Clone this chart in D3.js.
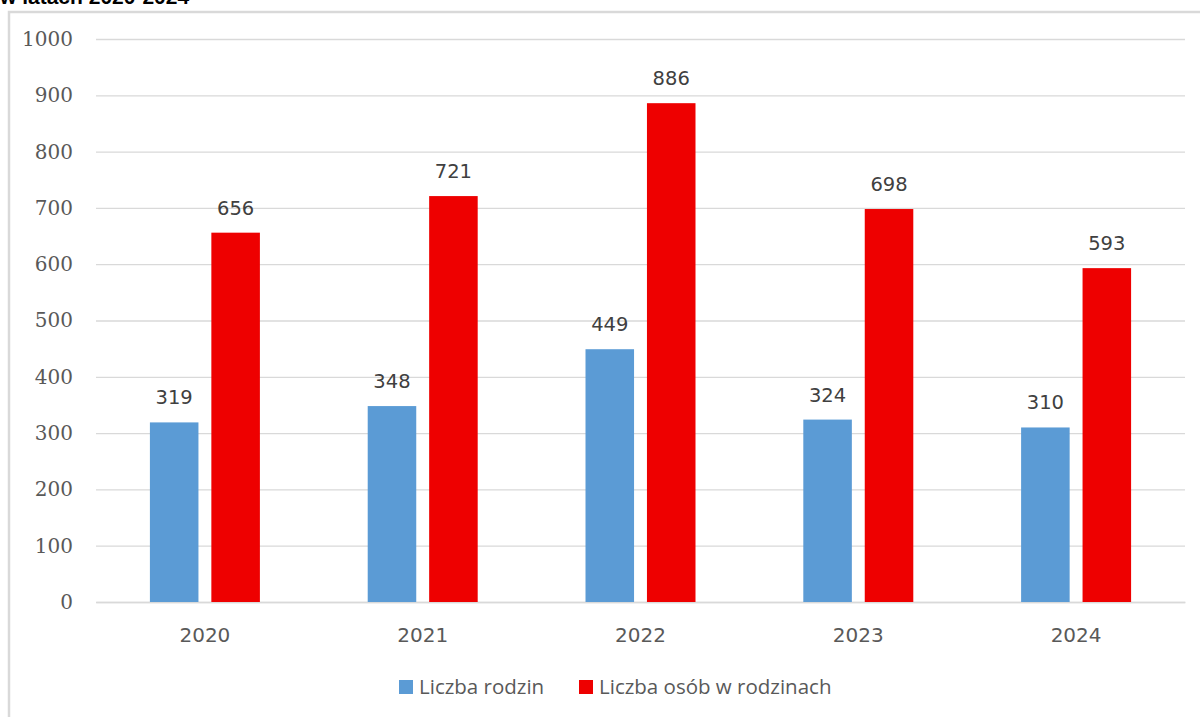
<!DOCTYPE html>
<html>
<head>
<meta charset="utf-8">
<script src="https://cdn.jsdelivr.net/npm/d3@7"></script>
<style>
  body { margin: 0; background: #fff; }
  svg { display: block; }
</style>
</head>
<body>
<svg id="chart" width="1200" height="717"></svg>
<script>
// data
const years = ['2020', '2021', '2022', '2023', '2024'];
const families = [319, 348, 449, 324, 310];
const persons = [656, 721, 886, 698, 593];
const seriesNames = ['Liczba rodzin', 'Liczba osób w rodzinach'];
const yTicks = [0, 100, 200, 300, 400, 500, 600, 700, 800, 900, 1000];

const colors = ['#5B9BD5', '#EE0000'];
const textColor = '#595959';

const svg = d3.select('#chart');
const margin = { left: 96, right: 15, top: 39, bottom: 115 };
const width = +svg.attr('width');
const height = +svg.attr('height');
const innerWidth = width - margin.left - margin.right;
const innerHeight = height - margin.top - margin.bottom;

// cut off title above the frame
svg.append('text')
  .attr('x', 0)
  .attr('y', 4)
  .attr('font-family', 'Liberation Sans, Arial, sans-serif')
  .attr('font-weight', 'bold')
  .attr('font-size', 21)
  .attr('fill', '#000')
  .text('w latach 2020-2024');

// chart frame
svg.append('rect')
  .attr('x', 9)
  .attr('y', 12)
  .attr('width', 1200)
  .attr('height', 720)
  .attr('fill', 'none')
  .attr('stroke', '#d9d9d9')
  .attr('stroke-width', 2.5);

const g = svg.append('g')
  .attr('transform', `translate(${margin.left},${margin.top})`);

const yScale = d3.scaleLinear()
  .domain([0, 1000])
  .range([innerHeight, 0]);

const x0 = d3.scaleBand()
  .domain(years)
  .range([0, innerWidth])
  .paddingInner(0.495)
  .paddingOuter(0.2475);

const x1 = d3.scaleBand()
  .domain([0, 1])
  .range([0, x0.bandwidth()])
  .paddingInner(0.21);

// y-axis with gridlines
const yAxis = d3.axisLeft(yScale)
  .tickValues(yTicks)
  .tickFormat(d3.format('d'))
  .tickSize(-innerWidth)
  .tickPadding(23);

const yAxisG = g.append('g').call(yAxis);
yAxisG.select('.domain').remove();
yAxisG.selectAll('.tick line')
  .attr('stroke', '#d9d9d9')
  .attr('stroke-width', 1.3);
yAxisG.selectAll('.tick text')
  .attr('fill', textColor)
  .attr('font-family', 'DejaVu Serif, serif')
  .attr('font-size', 20);

// x-axis
const xAxis = d3.axisBottom(x0).tickSize(0).tickPadding(26);
const xAxisG = g.append('g')
  .attr('transform', `translate(0,${innerHeight})`)
  .call(xAxis);
xAxisG.select('.domain')
  .attr('stroke', '#d9d9d9')
  .attr('stroke-width', 1.5);
xAxisG.selectAll('.tick text')
  .attr('fill', textColor)
  .attr('font-family', 'DejaVu Sans, sans-serif')
  .attr('font-size', 20);

// bars
const rows = years.map((y, i) => ({ year: y, values: [families[i], persons[i]] }));

const groups = g.selectAll('.group').data(rows)
  .enter().append('g')
    .attr('class', 'group')
    .attr('transform', d => `translate(${x0(d.year)},0)`);

groups.selectAll('rect')
  .data(d => d.values.map((v, k) => ({ k, v })))
  .enter().append('rect')
    .attr('x', d => x1(d.k))
    .attr('y', d => yScale(d.v))
    .attr('width', x1.bandwidth())
    .attr('height', d => innerHeight - yScale(d.v))
    .attr('fill', d => colors[d.k]);

groups.selectAll('.label')
  .data(d => d.values.map((v, k) => ({ k, v })))
  .enter().append('text')
    .attr('class', 'label')
    .attr('x', d => x1(d.k) + x1.bandwidth() / 2)
    .attr('y', d => yScale(d.v) - 18)
    .attr('text-anchor', 'middle')
    .attr('fill', '#404040')
    .attr('font-family', 'DejaVu Sans, sans-serif')
    .attr('font-size', 19.5)
    .text(d => d.v);

// legend
const legendItems = [
  { name: seriesNames[0], x: 399 },
  { name: seriesNames[1], x: 579 }
];
const legend = svg.append('g');
legendItems.forEach((d, i) => {
  legend.append('rect')
    .attr('x', d.x)
    .attr('y', 680)
    .attr('width', 14)
    .attr('height', 14)
    .attr('fill', colors[i]);
  legend.append('text')
    .attr('x', d.x + 20)
    .attr('y', 694)
    .attr('fill', textColor)
    .attr('font-family', 'Open Sans, sans-serif')
    .attr('font-size', 20.5)
    .text(d.name);
});
</script>
</body>
</html>
